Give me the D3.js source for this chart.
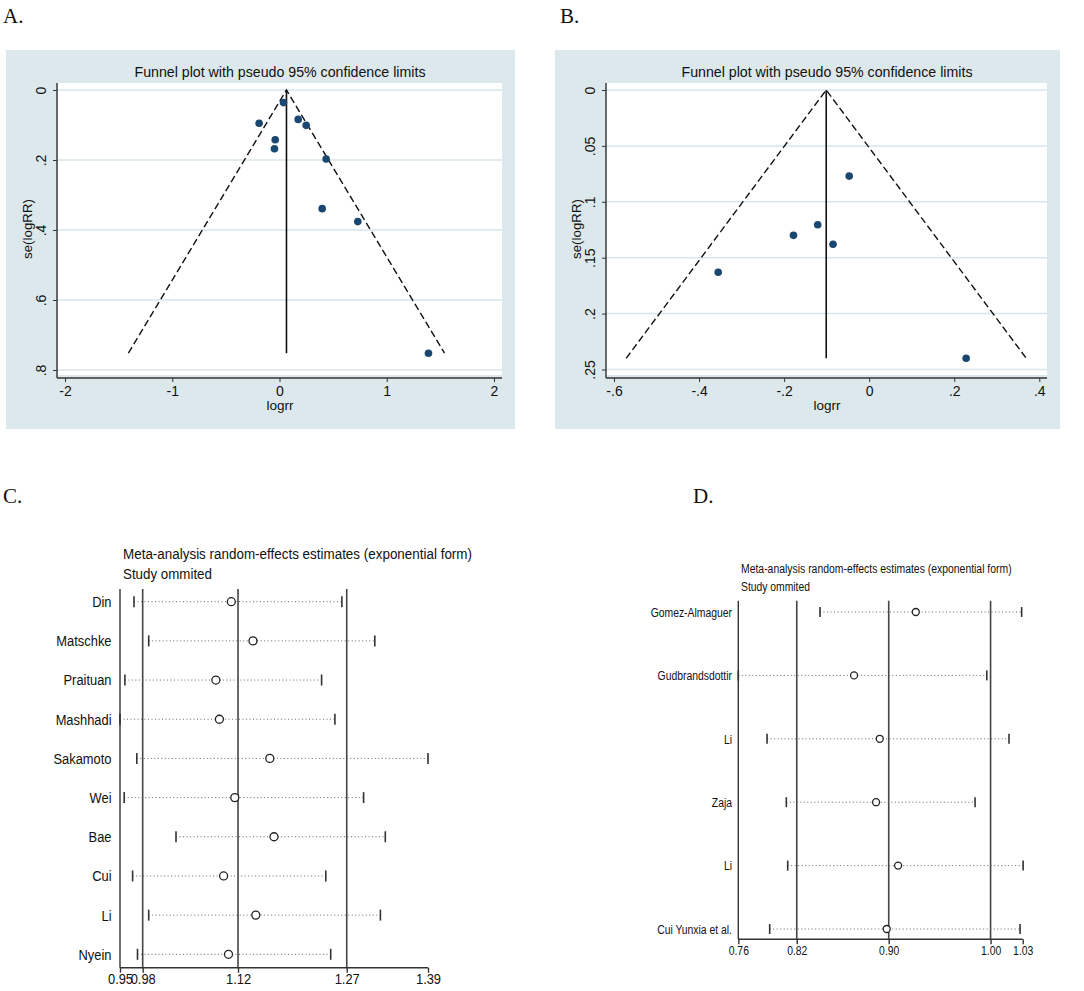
<!DOCTYPE html>
<html lang="en">
<head>
<meta charset="UTF-8">
<title>Funnel plots and sensitivity analysis</title>
<script src="https://d3js.org/d3.v7.min.js"></script>
<style>
  body { margin: 0; background: #fff; }
  text { font-family: "Liberation Sans", Arial, sans-serif; fill: #111; }
  .letter { font-family: "Liberation Serif", "Times New Roman", serif; font-size: 21px; }
  .grid { stroke: #d8e5eb; stroke-width: 1.5; }
  .axis-line { stroke: #333; stroke-width: 1.4; }
  .funnel { fill: none; stroke: #111; stroke-width: 1.4; stroke-dasharray: 7,3.5; }
  .pooled { stroke: #111; stroke-width: 1.6; }
  .ref { stroke: #444; stroke-width: 1.6; }
  .ci-dots { stroke: #666; stroke-width: 1; stroke-dasharray: 1,2.5; }
  .ci-end { stroke: #333; stroke-width: 1.6; }
  .est { fill: #fff; stroke: #222; stroke-width: 1.3; }
</style>
</head>
<body>
<svg width="1084" height="991"></svg>
<script>
// ---- panel A: funnel plot data
const logrrA = [0.037, -0.19, 0.174, 0.249, -0.04, -0.047, 0.435, 0.398, 0.730, 1.389];
const seA    = [0.036, 0.095, 0.084, 0.101, 0.142, 0.168, 0.197, 0.339, 0.376, 0.752];
const pooledA = 0.065;
const xTicksA = [-2, -1, 0, 1, 2];
const yTicksA = [0, 0.2, 0.4, 0.6, 0.8];

// ---- panel B: funnel plot data
const logrrB = [-0.047, -0.121, -0.178, -0.085, -0.355, 0.228];
const seB    = [0.077, 0.1205, 0.130, 0.138, 0.163, 0.240];
const pooledB = -0.101;
const xTicksB = [-0.6, -0.4, -0.2, 0, 0.2, 0.4];
const yTicksB = [0, 0.05, 0.1, 0.15, 0.2, 0.25];

// ---- panel C: leave-one-out (study omitted)
const studiesC = ["Din", "Matschke", "Praituan", "Mashhadi", "Sakamoto", "Wei", "Bae", "Cui", "Li", "Nyein"];
const estC   = [1.109, 1.140, 1.087, 1.092, 1.164, 1.114, 1.170, 1.098, 1.144, 1.105];
const lowerC = [0.970, 0.991, 0.957, 0.950, 0.974, 0.956, 1.030, 0.968, 0.991, 0.975];
const upperC = [1.267, 1.314, 1.238, 1.257, 1.390, 1.298, 1.329, 1.244, 1.322, 1.251];
const overallC = [0.9824, 1.1186, 1.2739];
const ticksC = [0.95, 0.9824, 1.1186, 1.2739, 1.39];

// ---- panel D: leave-one-out (study omitted)
const studiesD = ["Gomez-Almaguer", "Gudbrandsdottir", "Li", "Zaja", "Li ", "Cui Yunxia et al."];
const estD   = [0.9285, 0.8699, 0.8943, 0.8908, 0.9117, 0.9009];
const lowerD = [0.8376, 0.7600, 0.7873, 0.8056, 0.8069, 0.7898];
const upperD = [1.0290, 0.9959, 1.0170, 0.9848, 1.0304, 1.0275];
const overallD = [0.8155, 0.9028, 0.9995];
const ticksD = [0.76, 0.8155, 0.9028, 0.9995, 1.03];

const svg = d3.select("svg");
// Stata style labels: ".2", "-.4", "0"
const stataFmt = v => String(+v.toFixed(3)).replace(/^0\./, ".").replace(/^-0\./, "-.");

function panelLetter(x, y, t) {
    svg.append("text").attr("class", "letter").attr("x", x).attr("y", y).text(t);
}

// squeeze a text horizontally so it spans `width` px (original text is condensed)
function fitText(sel, x, y, width) {
    const w = sel.node().getComputedTextLength();
    sel.attr("transform", `translate(${x},${y}) scale(${width / w},1)`);
}

function funnelPanel(o) {
    const g = svg.append("g");
    g.append("rect").attr("x", o.bx).attr("y", 50).attr("width", o.bw).attr("height", 379)
        .attr("fill", "#dde8ec");
    g.append("rect").attr("x", o.px0).attr("y", 83).attr("width", o.px1 - o.px0).attr("height", 292)
        .attr("fill", "#fff");

    const x = d3.scaleLinear().domain(o.xDomain).range(o.xRange);
    const y = d3.scaleLinear().domain(o.yDomain).range([90, o.yBottom]);
    const ax = o.px0 - 1;

    // grid
    g.selectAll(".grid").data(o.yTicks).join("line").attr("class", "grid")
        .attr("x1", o.px0).attr("x2", o.px1).attr("y1", d => y(d)).attr("y2", d => y(d));

    // axes
    const yAxis = d3.axisLeft(y).tickValues(o.yTicks).tickSize(4).tickFormat(stataFmt);
    const yg = g.append("g").attr("transform", `translate(${ax},0)`).call(yAxis);
    yg.select(".domain").remove();
    yg.selectAll(".tick line").attr("stroke", "#333");
    yg.selectAll(".tick text").attr("font-size", 14).attr("text-anchor", "middle")
        .attr("x", 0).attr("y", 0).attr("dy", 0)
        .attr("transform", "translate(-11,0) rotate(-90)");
    g.append("line").attr("class", "axis-line").attr("x1", ax).attr("x2", ax).attr("y1", 83).attr("y2", 378);

    const xAxis = d3.axisBottom(x).tickValues(o.xTicks).tickSize(4).tickFormat(stataFmt);
    const xg = g.append("g").attr("transform", "translate(0,378)").call(xAxis);
    xg.select(".domain").remove();
    xg.selectAll(".tick line").attr("stroke", "#333");
    xg.selectAll(".tick text").attr("font-size", 14).attr("y", 8).attr("dy", "0.71em");
    g.append("line").attr("class", "axis-line").attr("x1", ax).attr("x2", o.px1).attr("y1", 378).attr("y2", 378);

    // funnel
    const smax = d3.max(o.se);
    const half = 1.96 * smax;
    g.append("path").attr("class", "funnel")
        .attr("d", d3.line()([[x(o.pooled - half), y(smax)], [x(o.pooled), y(0)], [x(o.pooled + half), y(smax)]]));
    g.append("line").attr("class", "pooled")
        .attr("x1", x(o.pooled)).attr("x2", x(o.pooled)).attr("y1", y(0)).attr("y2", y(smax));

    // points
    g.selectAll(".pt").data(o.logrr).join("circle")
        .attr("cx", d => x(d)).attr("cy", (d, i) => y(o.se[i])).attr("r", 3.8)
        .attr("fill", "#1a476f");

    // labels
    const cx = (o.px0 + o.px1) / 2;
    g.append("text").attr("x", cx).attr("y", 77).attr("text-anchor", "middle").attr("font-size", 14.2)
        .text("Funnel plot with pseudo 95% confidence limits");
    g.append("text").attr("x", cx).attr("y", 410).attr("text-anchor", "middle").attr("font-size", 13.5)
        .text("logrr");
    g.append("text").attr("text-anchor", "middle").attr("font-size", 13.3)
        .attr("transform", `translate(${ax - 25},229) rotate(-90)`).text("se(logRR)");
}

function looPanel(o) {
    const g = svg.append("g");
    const x = d3.scaleLinear().domain(o.xDomain).range(o.xRange);
    const y = d3.scalePoint().domain(o.studies).range(o.yRange);
    const [x0, x1] = o.xRange;

    // titles
    const t1 = g.append("text").attr("font-size", o.titleSize)
        .text("Meta-analysis random-effects estimates (exponential form)");
    fitText(t1, o.titleX, o.titleY, o.titleLen);
    const t2 = g.append("text").attr("font-size", o.titleSize).text("Study ommited");
    fitText(t2, o.titleX, o.titleY + o.titleGap, o.subLen);

    // frame + overall reference lines
    g.append("line").attr("class", "axis-line").attr("x1", x0).attr("x2", x0).attr("y1", o.top).attr("y2", o.axisY);
    g.selectAll(".ref").data(o.overall).join("line").attr("class", "ref")
        .attr("x1", d => x(d)).attr("x2", d => x(d)).attr("y1", o.top).attr("y2", o.axisY);

    const xAxis = d3.axisBottom(x).tickValues(o.ticks).tickSize(5).tickFormat(d3.format(".2f"));
    const xg = g.append("g").attr("transform", `translate(0,${o.axisY})`).call(xAxis);
    xg.select(".domain").remove();
    xg.selectAll(".tick line").attr("stroke", "#333").attr("stroke-width", 1.4);
    xg.selectAll(".tick text").attr("font-size", o.labSize).attr("y", 6).attr("dy", "0.71em")
        .attr("transform", `scale(${o.squeeze},1)`);
    g.append("line").attr("class", "axis-line").attr("x1", x0).attr("x2", x1).attr("y1", o.axisY).attr("y2", o.axisY);

    // rows
    const rows = g.selectAll(".row").data(o.studies).join("g")
        .attr("transform", d => `translate(0,${y(d)})`);
    rows.append("line").attr("class", "ci-dots")
        .attr("x1", (d, i) => x(o.lower[i])).attr("x2", (d, i) => x(o.upper[i]));
    rows.append("line").attr("class", "ci-end")
        .attr("x1", (d, i) => x(o.lower[i])).attr("x2", (d, i) => x(o.lower[i]))
        .attr("y1", -o.bar).attr("y2", o.bar);
    rows.append("line").attr("class", "ci-end")
        .attr("x1", (d, i) => x(o.upper[i])).attr("x2", (d, i) => x(o.upper[i]))
        .attr("y1", -o.bar).attr("y2", o.bar);
    rows.append("circle").attr("class", "est")
        .attr("cx", (d, i) => x(o.est[i])).attr("r", o.r);
    rows.append("text").attr("text-anchor", "end").attr("font-size", o.labSize).attr("dy", "0.36em")
        .attr("transform", `translate(${o.labelX},0) scale(${o.squeeze},1)`)
        .text(d => d.trim());
}

panelLetter(3, 23, "A.");
panelLetter(560, 23, "B.");
panelLetter(3, 503, "C.");
panelLetter(693, 503, "D.");

funnelPanel({
    bx: 6, bw: 509, px0: 58, px1: 502,
    xDomain: [-2, 2], xRange: [65, 494],
    yDomain: [0, 0.8], yBottom: 370,
    xTicks: xTicksA, yTicks: yTicksA,
    logrr: logrrA, se: seA, pooled: pooledA
});

funnelPanel({
    bx: 555, bw: 505, px0: 607, px1: 1047,
    xDomain: [-0.6, 0.4], xRange: [614, 1039.3],
    yDomain: [0, 0.25], yBottom: 369.5,
    xTicks: xTicksB, yTicks: yTicksB,
    logrr: logrrB, se: seB, pooled: pooledB
});

looPanel({
    studies: studiesC, est: estC, lower: lowerC, upper: upperC,
    overall: overallC, ticks: ticksC,
    xDomain: [0.95, 1.39], xRange: [120, 428], yRange: [601.7, 954.3],
    top: 589, axisY: 967.7, labelX: 111.5,
    titleX: 123, titleY: 559, titleGap: 19.5, titleSize: 15.5, titleLen: 349, subLen: 89,
    labSize: 15, squeeze: 0.86, bar: 5.5, r: 4
});

looPanel({
    studies: studiesD, est: estD, lower: lowerD, upper: upperD,
    overall: overallD, ticks: ticksD,
    xDomain: [0.76, 1.03], xRange: [738.3, 1022.7], yRange: [612, 929],
    top: 600.7, axisY: 939.3, labelX: 732,
    titleX: 741, titleY: 573.3, titleGap: 17.4, titleSize: 13.5, titleLen: 271, subLen: 69,
    labSize: 13.5, squeeze: 0.77, bar: 5, r: 3.5
});
</script>
</body>
</html>
